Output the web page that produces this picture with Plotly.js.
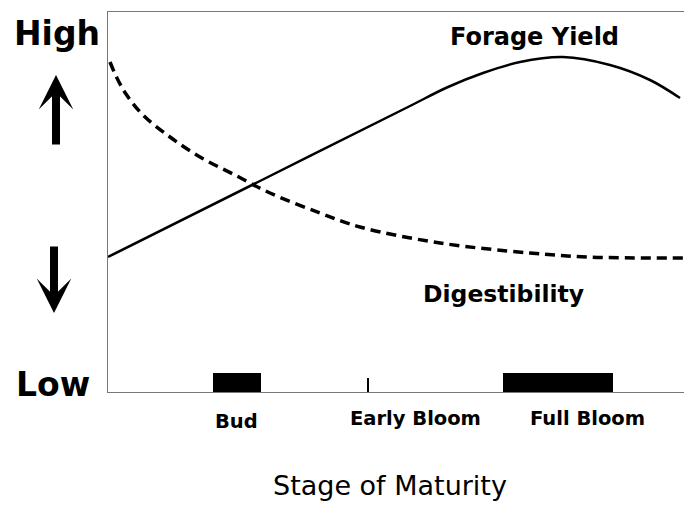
<!DOCTYPE html>
<html>
<head>
<meta charset="utf-8">
<script src="https://cdn.plot.ly/plotly-3.0.1.min.js"></script>
<style>html,body{margin:0;padding:0;background:#fff;}</style>
</head>
<body>
<div id="chart" style="width:684px;height:505px;"></div>
<script>
// Horizontal position = stage of maturity (relative units), vertical = level (Low 0 .. High 380)
const yieldX = [0, 150, 300, 340, 375, 412, 455, 502, 542, 572];
const yieldY = [135, 210, 285, 305, 319, 330, 335, 327, 312, 294];

const digestX = [2, 8, 18, 35, 62, 92, 125, 162, 212, 252, 332, 422, 480, 576];
const digestY = [330, 316, 298, 277, 255, 235, 218, 199, 179, 165, 149, 139, 135, 134];

// Stage bars on the maturity axis
const stageBarCenter = [129, 450];
const stageBarWidth = [48, 110];
const stageBarHeight = [19, 19];

// Early bloom tick
const earlyTickX = [260, 260];
const earlyTickY = [-5, 14];

const stageLabels = ["Bud", "Early Bloom", "Full Bloom"];

const traces = [
  {type: 'bar', x: stageBarCenter, y: stageBarHeight, width: stageBarWidth,
   marker: {color: '#000', line: {width: 0}}, hoverinfo: 'skip'},
  {type: 'scatter', mode: 'lines', x: earlyTickX, y: earlyTickY, cliponaxis: false,
   line: {color: '#000', width: 2}, hoverinfo: 'skip'},
  {type: 'scatter', mode: 'lines', x: yieldX, y: yieldY,
   line: {color: '#000', width: 2.5, shape: 'spline', smoothing: 1}, hoverinfo: 'skip'},
  {type: 'scatter', mode: 'lines', x: digestX, y: digestY,
   line: {color: '#000', width: 3.5, dash: '10px,6px', shape: 'spline', smoothing: 1}, hoverinfo: 'skip'}
];

function px2x(p){ return (p - 108) / 576; }
function px2y(p){ return (392 - p) / 380; }

const bold = {family: 'DejaVu Sans', color: '#000', weight: 'bold'};
function f(size){ return Object.assign({}, bold, {size: size}); }

const annotations = [
  {text: '<b>High</b>', x: px2x(56.5), y: px2y(33.5), font: f(33)},
  {text: '<b>Low</b>', x: px2x(52.5), y: px2y(384), font: f(33)},
  {text: '<b>Forage Yield</b>', x: px2x(534.5), y: px2y(36.5), font: f(24)},
  {text: '<b>Digestibility</b>', x: px2x(503), y: px2y(293.5), font: f(23.5)},
  {text: '<b>' + stageLabels[0] + '</b>', x: px2x(236.5), y: px2y(421.5), font: f(19.5)},
  {text: '<b>' + stageLabels[1] + '</b>', x: px2x(415), y: px2y(419), font: f(19.5)},
  {text: '<b>' + stageLabels[2] + '</b>', x: px2x(587), y: px2y(419), font: f(19.5)},
  {text: 'Stage of Maturity', x: px2x(389.5), y: px2y(503), yanchor: 'bottom',
   font: {family: 'DejaVu Sans', size: 27, color: '#000', weight: 500}},
  {text: '', x: px2x(56), y: px2y(75), showarrow: true, ax: 0, ay: 71,
   arrowhead: 3, arrowsize: 0.72, arrowwidth: 8, arrowcolor: '#000', standoff: 0},
  {text: '', x: px2x(54), y: px2y(313), showarrow: true, ax: 0, ay: -68,
   arrowhead: 3, arrowsize: 0.72, arrowwidth: 8, arrowcolor: '#000', standoff: 0}
].map(a => Object.assign({xref: 'paper', yref: 'paper', showarrow: false,
  xanchor: 'center', yanchor: 'middle'}, a));

const layout = {
  width: 684, height: 505,
  margin: {l: 108, r: 0, t: 12, b: 113, pad: 0},
  paper_bgcolor: '#fff', plot_bgcolor: '#fff',
  showlegend: false,
  xaxis: {range: [0, 576], showline: true, mirror: true, linecolor: '#777', linewidth: 1,
          showgrid: false, zeroline: false, showticklabels: false, ticks: '', fixedrange: true},
  yaxis: {range: [0, 380], showline: true, mirror: false, linecolor: '#777', linewidth: 1,
          showgrid: false, zeroline: false, showticklabels: false, ticks: '', fixedrange: true},
  annotations: annotations
};

Plotly.newPlot('chart', traces, layout, {staticPlot: true, displayModeBar: false});
</script>
</body>
</html>
